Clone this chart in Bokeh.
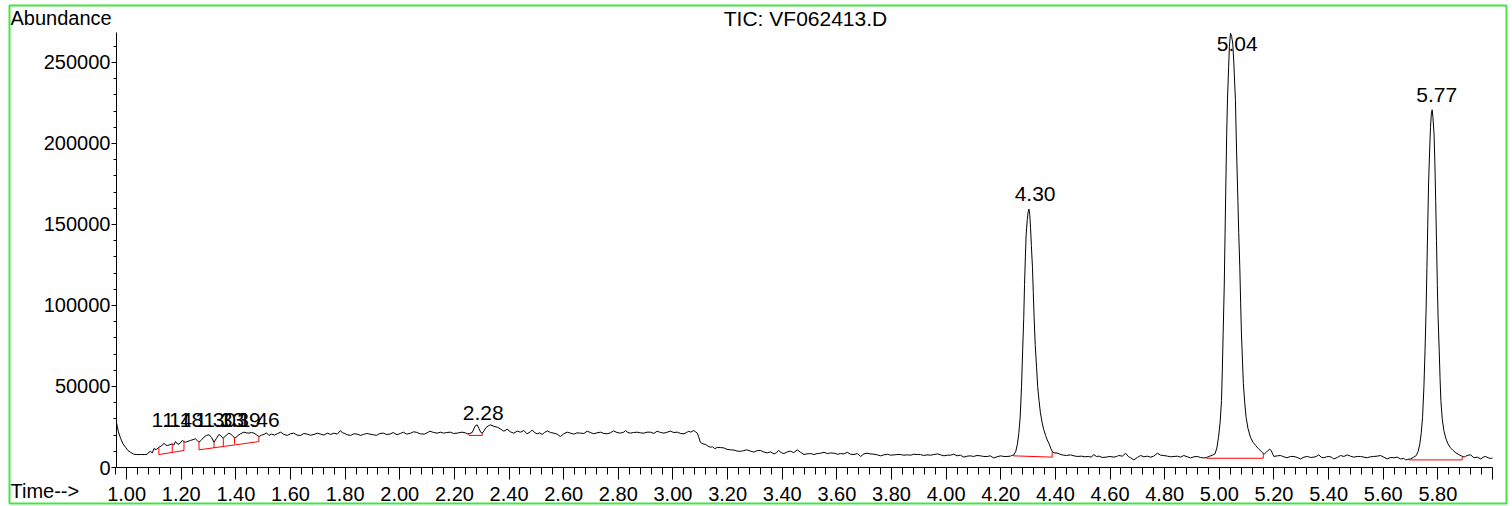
from bokeh.plotting import figure
from bokeh.models import FixedTicker, NumeralTickFormatter, Label, BoxAnnotation, Range1d
from bokeh.embed import file_html
from bokeh.resources import INLINE
from bokeh.core.properties import value

# ---------------- data ----------------
time_min = [
    0.963, 0.970, 0.978, 0.987, 0.996, 1.005, 1.015, 1.025, 1.035, 1.050, 1.065, 1.075, 1.082, 1.088, 1.094,
    1.100, 1.108, 1.118, 1.127, 1.137, 1.143, 1.149, 1.158, 1.167, 1.173, 1.179, 1.188, 1.196, 1.204, 1.210,
    1.216, 1.225, 1.234, 1.243, 1.252, 1.258, 1.265, 1.274, 1.283, 1.292, 1.302, 1.311, 1.320, 1.329, 1.338,
    1.345, 1.350, 1.354, 1.359, 1.366, 1.374, 1.381, 1.387, 1.395, 1.400, 1.408, 1.417, 1.429, 1.438, 1.448,
    1.457, 1.466, 1.475, 1.485, 1.494, 1.503, 1.512, 1.521, 1.530, 1.542, 1.553, 1.564, 1.576, 1.588, 1.600,
    1.612, 1.624, 1.637, 1.649, 1.661, 1.673, 1.686, 1.698, 1.710, 1.722, 1.735, 1.747, 1.759, 1.771, 1.783,
    1.790, 1.796, 1.808, 1.820, 1.832, 1.844, 1.856, 1.867, 1.879, 1.890, 1.903, 1.915, 1.927, 1.940, 1.952,
    1.964, 1.976, 1.990, 2.002, 2.013, 2.025, 2.040, 2.050, 2.060, 2.075, 2.090, 2.100, 2.110, 2.124, 2.137,
    2.150, 2.160, 2.172, 2.185, 2.197, 2.210, 2.220, 2.228, 2.240, 2.247, 2.256, 2.265, 2.277, 2.283, 2.290,
    2.296, 2.302, 2.308, 2.315, 2.326, 2.332, 2.345, 2.357, 2.370, 2.381, 2.393, 2.405, 2.417, 2.430, 2.442,
    2.454, 2.466, 2.478, 2.485, 2.493, 2.503, 2.512, 2.521, 2.530, 2.540, 2.552, 2.564, 2.576, 2.588, 2.600,
    2.613, 2.625, 2.637, 2.649, 2.662, 2.674, 2.686, 2.698, 2.710, 2.722, 2.735, 2.747, 2.759, 2.771, 2.783,
    2.795, 2.808, 2.820, 2.826, 2.835, 2.844, 2.856, 2.869, 2.880, 2.893, 2.905, 2.918, 2.930, 2.942, 2.955,
    2.967, 2.979, 2.991, 3.003, 3.016, 3.028, 3.040, 3.050, 3.058, 3.065, 3.076, 3.083, 3.089, 3.094, 3.100,
    3.110, 3.120, 3.128, 3.137, 3.145, 3.153, 3.162, 3.174, 3.186, 3.198, 3.211, 3.223, 3.235, 3.247, 3.259,
    3.270, 3.284, 3.296, 3.308, 3.320, 3.332, 3.345, 3.357, 3.370, 3.378, 3.387, 3.396, 3.406, 3.418, 3.430,
    3.442, 3.455, 3.467, 3.480, 3.490, 3.504, 3.516, 3.528, 3.540, 3.553, 3.565, 3.577, 3.590, 3.602, 3.614,
    3.626, 3.638, 3.650, 3.662, 3.675, 3.687, 3.699, 3.711, 3.723, 3.736, 3.748, 3.760, 3.772, 3.785, 3.797,
    3.810, 3.820, 3.833, 3.845, 3.858, 3.870, 3.882, 3.894, 3.906, 3.918, 3.930, 3.943, 3.955, 3.968, 3.980,
    3.992, 4.004, 4.016, 4.028, 4.040, 4.052, 4.065, 4.077, 4.089, 4.100, 4.113, 4.126, 4.138, 4.150, 4.162,
    4.174, 4.186, 4.199, 4.211, 4.223, 4.235, 4.240, 4.248, 4.255, 4.261, 4.266, 4.271, 4.276, 4.280, 4.284,
    4.287, 4.290, 4.293, 4.297, 4.300, 4.303, 4.306, 4.309, 4.312, 4.316, 4.319, 4.322, 4.326, 4.331, 4.335,
    4.340, 4.345, 4.351, 4.357, 4.364, 4.370, 4.377, 4.383, 4.390, 4.398, 4.409, 4.420, 4.430, 4.441, 4.455,
    4.468, 4.480, 4.495, 4.508, 4.520, 4.532, 4.540, 4.550, 4.560, 4.571, 4.585, 4.600, 4.614, 4.624, 4.632,
    4.645, 4.657, 4.668, 4.675, 4.687, 4.700, 4.712, 4.724, 4.736, 4.748, 4.760, 4.773, 4.785, 4.797, 4.810,
    4.822, 4.834, 4.846, 4.858, 4.870, 4.883, 4.895, 4.907, 4.919, 4.931, 4.943, 4.953, 4.965, 4.975, 4.984,
    4.991, 4.997, 5.003, 5.008, 5.011, 5.014, 5.018, 5.021, 5.024, 5.027, 5.030, 5.034, 5.037, 5.041, 5.045,
    5.049, 5.053, 5.056, 5.059, 5.063, 5.068, 5.071, 5.075, 5.078, 5.081, 5.085, 5.088, 5.093, 5.098, 5.105,
    5.114, 5.123, 5.133, 5.143, 5.153, 5.159, 5.165, 5.172, 5.178, 5.184, 5.190, 5.196, 5.200, 5.212, 5.224,
    5.236, 5.248, 5.260, 5.273, 5.285, 5.297, 5.310, 5.322, 5.334, 5.346, 5.355, 5.364, 5.373, 5.383, 5.392,
    5.401, 5.410, 5.419, 5.432, 5.444, 5.456, 5.468, 5.480, 5.492, 5.505, 5.517, 5.529, 5.541, 5.553, 5.565,
    5.578, 5.590, 5.602, 5.614, 5.627, 5.639, 5.651, 5.663, 5.675, 5.682, 5.690, 5.700, 5.710, 5.721, 5.728,
    5.734, 5.739, 5.744, 5.749, 5.753, 5.757, 5.760, 5.763, 5.766, 5.770, 5.773, 5.776, 5.779, 5.782, 5.786,
    5.789, 5.792, 5.795, 5.798, 5.801, 5.805, 5.808, 5.811, 5.816, 5.822, 5.829, 5.837, 5.846, 5.856, 5.866,
    5.876, 5.886, 5.896, 5.900, 5.910, 5.920, 5.932, 5.944, 5.957, 5.966, 5.975, 5.984, 5.993, 6.000,
]
abundance_thousands = [
    27.5, 22.0, 18.0, 14.5, 12.5, 10.5, 9.3, 8.3, 8.0, 8.0, 8.0, 8.1, 9.5, 9.9, 9.0,
    11.7, 11.0, 12.5, 13.2, 15.0, 13.8, 13.6, 14.0, 14.6, 13.8, 16.0, 14.2, 15.0, 16.7, 16.0,
    15.6, 16.2, 16.7, 17.2, 17.7, 16.8, 15.6, 17.0, 18.7, 19.8, 20.2, 18.5, 15.6, 18.0, 20.4,
    19.6, 18.5, 18.0, 19.1, 20.0, 21.2, 20.6, 19.8, 18.3, 18.5, 19.8, 20.8, 21.8, 21.4, 21.2,
    21.6, 21.2, 20.2, 19.1, 20.0, 20.4, 21.4, 19.8, 20.6, 20.0, 21.0, 21.8, 20.4, 19.8, 20.8,
    21.2, 20.0, 19.8, 21.0, 20.6, 19.9, 20.4, 21.2, 20.6, 20.0, 21.2, 20.4, 21.2, 20.6, 22.8,
    21.4, 21.2, 20.2, 19.8, 20.8, 20.6, 19.8, 20.4, 21.0, 20.6, 20.2, 19.8, 21.0, 21.2, 20.4,
    20.6, 21.6, 20.2, 21.0, 21.8, 20.6, 21.2, 22.0, 21.8, 20.8, 20.6, 21.4, 22.4, 21.6, 21.2,
    21.8, 21.2, 21.6, 21.8, 21.0, 21.2, 21.6, 21.8, 21.4, 20.8, 21.0, 21.6, 25.9, 26.3, 24.0,
    21.8, 21.2, 22.6, 24.5, 25.9, 26.3, 25.4, 24.9, 23.6, 22.4, 23.6, 22.0, 21.2, 22.4, 21.8,
    22.8, 20.8, 22.0, 23.2, 21.6, 20.8, 21.4, 20.4, 21.6, 22.6, 21.6, 21.2, 20.6, 19.1, 20.8,
    21.8, 21.2, 20.6, 21.4, 21.2, 21.0, 22.4, 21.6, 20.8, 21.4, 21.8, 21.0, 20.8, 21.4, 22.6,
    21.6, 21.2, 21.8, 22.8, 21.6, 21.2, 21.6, 21.8, 21.4, 21.2, 21.8, 21.8, 21.0, 22.4, 21.6,
    21.2, 21.8, 22.4, 21.6, 21.8, 21.0, 20.8, 21.6, 22.4, 21.8, 22.8, 22.0, 21.2, 19.0, 15.6,
    14.6, 14.2, 13.2, 12.5, 12.8, 11.6, 12.4, 12.3, 12.1, 11.2, 10.9, 10.8, 10.1, 10.0, 10.4,
    10.9, 10.1, 9.5, 10.4, 10.5, 9.6, 9.0, 9.6, 8.4, 9.0, 10.5, 9.2, 8.6, 9.6, 10.1,
    9.2, 10.9, 9.4, 8.0, 8.4, 8.6, 8.0, 8.6, 8.8, 9.4, 8.6, 9.0, 8.8, 8.2, 8.6,
    8.4, 9.4, 8.2, 8.0, 8.6, 6.8, 8.4, 8.8, 8.4, 8.2, 7.8, 7.2, 7.8, 8.2, 7.6,
    7.8, 8.0, 8.0, 7.6, 7.8, 7.6, 8.2, 8.0, 8.0, 7.4, 7.8, 7.6, 8.0, 8.4, 7.8,
    7.2, 7.6, 7.6, 8.2, 7.2, 7.6, 6.4, 7.0, 7.2, 6.8, 7.4, 7.2, 6.8, 6.8, 7.2,
    5.9, 6.6, 7.2, 6.8, 6.8, 7.0, 7.4, 7.8, 10.0, 14.6, 21.0, 31.0, 50.0, 72.0, 92.0,
    113.0, 130.0, 144.0, 153.0, 157.6, 159.5, 156.0, 148.0, 137.0, 123.6, 108.0, 92.8, 76.0, 61.9, 50.0,
    41.4, 34.0, 28.0, 23.5, 19.8, 17.0, 14.6, 11.8, 9.4, 9.0, 8.8, 8.0, 7.6, 7.4, 7.8,
    7.2, 6.8, 7.0, 6.6, 6.8, 6.4, 8.0, 6.8, 7.0, 6.2, 6.4, 6.8, 6.4, 6.8, 7.4,
    7.0, 8.8, 6.6, 6.0, 4.7, 6.2, 7.4, 6.6, 7.0, 6.4, 7.0, 8.8, 7.6, 7.4, 7.0,
    6.6, 6.8, 7.0, 6.4, 7.4, 6.6, 5.9, 6.6, 6.8, 6.2, 5.9, 6.2, 7.0, 7.6, 8.4,
    12.0, 18.7, 28.0, 41.4, 60.0, 82.5, 112.0, 144.0, 176.0, 206.0, 228.0, 247.0, 260.0, 268.0, 266.0,
    262.0, 250.0, 238.0, 226.5, 196.0, 164.8, 145.0, 123.6, 102.0, 82.5, 65.0, 51.7, 40.0, 31.0, 24.0,
    18.7, 15.6, 13.6, 11.6, 10.0, 9.0, 8.4, 9.4, 10.5, 11.2, 10.5, 8.0, 6.8, 7.2, 7.4,
    6.6, 6.0, 6.8, 6.8, 6.2, 5.3, 6.4, 6.8, 6.2, 6.4, 6.8, 7.8, 6.4, 6.0, 6.6,
    6.8, 6.4, 5.3, 6.2, 7.4, 6.8, 7.8, 7.0, 6.4, 6.8, 6.8, 6.4, 6.0, 6.6, 6.8,
    7.0, 7.4, 6.4, 5.3, 6.2, 6.0, 6.4, 5.3, 5.6, 4.7, 5.0, 5.3, 6.2, 7.4, 10.0,
    14.6, 21.0, 31.0, 50.0, 72.0, 98.0, 123.6, 150.0, 175.0, 196.0, 210.0, 218.0, 220.8, 216.0, 206.0,
    188.0, 164.8, 140.0, 113.0, 92.0, 72.0, 55.0, 41.4, 30.0, 22.8, 18.0, 14.6, 12.2, 10.5, 9.0,
    8.0, 7.2, 6.4, 6.8, 7.6, 7.8, 6.0, 6.4, 5.3, 6.4, 6.8, 6.0, 5.6, 5.8,
]
abundance = [v * 1000 for v in abundance_thousands]

# integrated peaks: retention times, labels and label heights (text baseline)
peak_rt = [1.14, 1.18, 1.30, 1.33, 1.39, 1.46, 2.28, 4.30, 5.04, 5.77]
peak_text = ["1.14", "1.18", "1.30", "1.33", "1.39", "1.46", "2.28", "4.30", "5.04", "5.77"]
label_height = [24500, 24500, 24500, 24500, 24500, 24500, 29000, 163600, 256400, 225100]

# red integration baselines
baseline_t = [[1.118, 1.167, 1.210], [1.265, 1.484], [2.253, 2.302],
              [4.246, 4.388], [4.953, 5.161], [5.694, 5.889]]
baseline_v = [[8000, 9300, 10500], [10900, 16000], [19800, 19800],
              [7200, 6400], [5700, 5700], [4700, 4700]]
drop_t = [1.118, 1.167, 1.210, 1.265, 1.320, 1.354, 1.395, 1.484,
          2.253, 2.302, 4.246, 4.388, 4.953, 5.161, 5.694, 5.889]
drop_base = [8000, 9300, 10500, 10900, 12000, 13300, 14600, 16000,
             19800, 19800, 7200, 6400, 5700, 5700, 4700, 4700]
drop_top = [12500, 14600, 16000, 15600, 15600, 18000, 18300, 19100,
            21000, 21200, 7800, 9400, 6200, 8800, 5300, 6800]

# axis ticks and spans
x_ticks = [1.0, 1.2, 1.4, 1.6, 1.8, 2.0, 2.2, 2.4, 2.6, 2.8, 3.0, 3.2,
           3.4, 3.6, 3.8, 4.0, 4.2, 4.4, 4.6, 4.8, 5.0, 5.2, 5.4, 5.6, 5.8, 6.0]
x_unlabelled = {6.0: ""}
x_minor = [round(0.96 + 0.04 * i, 2) for i in range(127)]
y_ticks = [0, 50000, 100000, 150000, 200000, 250000]
y_minor = [10000 * i for i in range(27)]
x_axis_span = (0.963, 6.0)
y_axis_span = (0, 268500)

title_text = "TIC: VF062413.D"
y_title = "Abundance"
x_title = "Time-->"

# ---------------- layout (pixels) ----------------
W, H = 1512, 506
AX_LEFT, AX_RIGHT = 116, 1492     # canvas x of the time axis ends
AX_TOP, AX_BOTTOM = 32, 467       # canvas y (from top) of the abundance axis ends
TXT_SHIFT = 8                     # svg alphabetic-baseline correction (px)
px_per_min = (AX_RIGHT - AX_LEFT) / (x_axis_span[1] - x_axis_span[0])
px_per_abund = (AX_BOTTOM - AX_TOP) / (y_axis_span[1] - y_axis_span[0])
x_range = Range1d(x_axis_span[0] - AX_LEFT / px_per_min,
                  x_axis_span[1] + (W - AX_RIGHT) / px_per_min)
y_range = Range1d(y_axis_span[0] - (H - AX_BOTTOM) / px_per_abund,
                  y_axis_span[1] + AX_TOP / px_per_abund)

FONT = "Liberation Sans"
p = figure(width=W, height=H, output_backend="svg", toolbar_location=None,
           x_range=x_range, y_range=y_range,
           min_border_left=0, min_border_right=0, min_border_top=0, min_border_bottom=0)
p.outline_line_color = None
p.background_fill_color = "white"
p.border_fill_color = "white"
p.xgrid.visible = False
p.ygrid.visible = False

xa = p.xaxis[0]
xa.fixed_location = 0
xa.bounds = x_axis_span
xa.ticker = FixedTicker(ticks=x_ticks, minor_ticks=x_minor)
xa.formatter = NumeralTickFormatter(format="0.00")
xa.major_label_overrides = x_unlabelled
xa.major_tick_out = 12
xa.major_tick_in = 0
xa.minor_tick_out = 7
xa.minor_tick_in = 0
xa.major_label_standoff = 7
xa.major_label_text_font = FONT
xa.major_label_text_font_size = "20px"
xa.major_label_text_color = "black"
xa.axis_line_color = "black"
xa.major_tick_line_color = "black"
xa.minor_tick_line_color = "black"

ya = p.yaxis[0]
ya.fixed_location = x_axis_span[0]
ya.bounds = y_axis_span
ya.ticker = FixedTicker(ticks=y_ticks, minor_ticks=y_minor)
ya.formatter = NumeralTickFormatter(format="0")
ya.major_tick_out = 5
ya.major_tick_in = 0
ya.minor_tick_out = 3
ya.minor_tick_in = 0
ya.major_label_standoff = 1
ya.major_label_text_font = FONT
ya.major_label_text_font_size = "20px"
ya.major_label_text_color = "black"
ya.axis_line_color = "black"
ya.major_tick_line_color = "black"
ya.minor_tick_line_color = "black"

# chromatogram trace
p.line(time_min, abundance, line_color="black", line_width=1)

# integration baselines
p.multi_line(baseline_t, baseline_v, line_color="#ff0000", line_width=1)
p.segment(x0=drop_t, y0=drop_base, x1=drop_t, y1=drop_top, line_color="#ff0000", line_width=1)

# peak labels
p.text(x=peak_rt, y=label_height, text=peak_text, x_offset=7, y_offset=-TXT_SHIFT,
       text_align="center", text_baseline="alphabetic",
       text_font=value(FONT), text_font_size=value("21px"), text_color="black")

# header / axis titles (screen units: from the canvas' bottom-left corner)
p.add_layout(Label(x=10, y=H - 25 + TXT_SHIFT, x_units="screen", y_units="screen", text=y_title,
                   text_font=FONT, text_font_size="20px", text_color="black",
                   text_align="left", text_baseline="alphabetic"))
p.add_layout(Label(x=805, y=H - 26 + TXT_SHIFT, x_units="screen", y_units="screen", text=title_text,
                   text_font=FONT, text_font_size="21px", text_color="black",
                   text_align="center", text_baseline="alphabetic"))
p.add_layout(Label(x=10, y=H - 498 + TXT_SHIFT, x_units="screen", y_units="screen", text=x_title,
                   text_font=FONT, text_font_size="20px", text_color="black",
                   text_align="left", text_baseline="alphabetic"))

# green outer border
p.add_layout(BoxAnnotation(left=9, right=1506, bottom=H - 503, top=H - 5,
                           left_units="screen", right_units="screen",
                           top_units="screen", bottom_units="screen",
                           fill_color=None, fill_alpha=0, line_color="#44e444",
                           line_alpha=1.0, line_width=2, level="overlay"))

open("out.html", "w").write(file_html(p, INLINE))
